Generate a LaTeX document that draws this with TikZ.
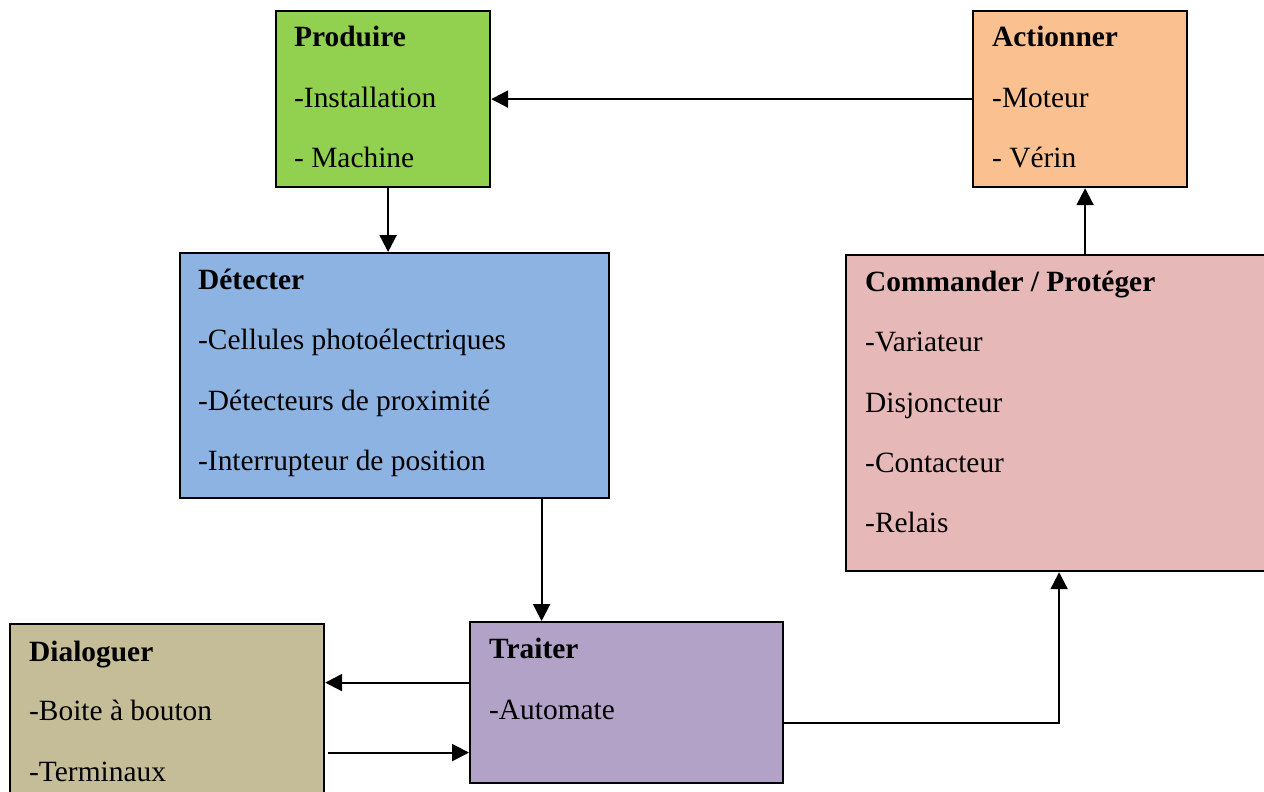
\documentclass[tikz,border=0pt]{standalone}
\usepackage{fontspec}
\setmainfont{Liberation Serif}
\usetikzlibrary{arrows.meta}
\definecolor{cProd}{HTML}{92D050}
\definecolor{cAct}{HTML}{FAC090}
\definecolor{cDet}{HTML}{8DB3E2}
\definecolor{cCmd}{HTML}{E6B9B8}
\definecolor{cDial}{HTML}{C4BD97}
\definecolor{cTrait}{HTML}{B2A2C7}
\tikzset{
  box/.style={draw=black, line width=2.2pt, rectangle, anchor=north west, inner sep=0pt},
  txt/.style={anchor=base west, inner sep=0pt, font=\fontsize{29.4}{36}\selectfont},
  ttl/.style={txt, font=\fontsize{29.4}{36}\selectfont\bfseries},
  arr/.style={line width=2.2pt, -{Triangle[length=17pt,width=17pt]}},
}
\begin{document}
\begin{tikzpicture}[x=1pt,y=-1pt]
\clip (0,0) rectangle (1264,792);
\fill[white] (0,0) rectangle (1264,792);

% boxes
\node[box, fill=cProd, minimum width=214pt, minimum height=176pt] (prod) at (275,10) {};
\node[box, fill=cAct, minimum width=214pt, minimum height=176pt] (act) at (972,10) {};
\node[box, fill=cDet, minimum width=429pt, minimum height=245pt] (det) at (179,252) {};
\node[box, fill=cCmd, minimum width=426pt, minimum height=316pt] (cmd) at (845,254) {};
\node[box, fill=cDial, minimum width=314pt, minimum height=190pt] (dial) at (9,623) {};
\node[box, fill=cTrait, minimum width=313pt, minimum height=161pt] (trait) at (469,621) {};

% Produire
\node[ttl] (prodT) at (294,47) {Produire};
\node[txt] (prodA) at (294,107) {-Installation};
\node[txt] (prodB) at (294,167) {- Machine};

% Actionner
\node[ttl] (actT) at (992,47) {Actionner};
\node[txt] (actA) at (992,107) {-Moteur};
\node[txt] (actB) at (992,167) {- Vérin};

% Détecter
\node[ttl] (detT) at (198,289) {Détecter};
\node[txt] (detA) at (198,349) {-Cellules photoélectriques};
\node[txt] (detB) at (198,410) {-Détecteurs de proximité};
\node[txt] (detC) at (198,470) {-Interrupteur de position};

% Commander / Protéger
\node[ttl] (cmdT) at (865,291) {Commander / Protéger};
\node[txt] (cmdA) at (865,351) {-Variateur};
\node[txt] (cmdB) at (865,412) {Disjoncteur};
\node[txt] (cmdC) at (865,472) {-Contacteur};
\node[txt] (cmdD) at (865,532) {-Relais};

% Dialoguer
\node[ttl] (dialT) at (29,661) {Dialoguer};
\node[txt] (dialA) at (29,720) {-Boite à bouton};
\node[txt] (dialB) at (29,781) {-Terminaux};

% Traiter
\node[ttl] (traitT) at (489,658) {Traiter};
\node[txt] (traitA) at (489,719) {-Automate};

% connectors
\draw[arr] (act.west) -- (prod.east);
\draw[arr] ([xshift=5pt]prod.south) -- ([xshift=5pt]prod.south |- det.north);
\draw[arr] ([xshift=5pt]act.south |- cmd.north) -- ([xshift=5pt]act.south);
\draw[arr] ([xshift=-85pt]trait.north |- det.south) -- ([xshift=-85pt]trait.north);
\draw[arr] ([yshift=20pt]trait.west) -- ([yshift=20pt]trait.west -| dial.east);
\draw[arr] ([xshift=3pt,yshift=-50pt]dial.east |- trait.west) -- ([yshift=-50pt]trait.west);
\draw[arr] ([yshift=-20pt]trait.east) -| (cmd.south);
\end{tikzpicture}
\end{document}
